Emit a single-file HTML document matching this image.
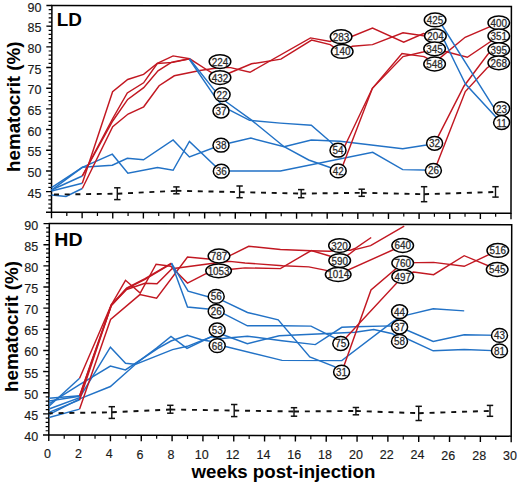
<!DOCTYPE html>
<html><head><meta charset="utf-8"><title>Hematocrit</title>
<style>
html,body{margin:0;padding:0;background:#fff;}
svg{display:block;}
text{font-family:"Liberation Sans",sans-serif;fill:#111;}
.tl{font-size:12.5px;fill:#1a1a1a;stroke:#1a1a1a;stroke-width:0.15px;}
.nl{font-size:10.4px;fill:#2a2a2a;stroke:#2a2a2a;stroke-width:0.25px;}
.pt{font-size:18px;font-weight:bold;fill:#000;}
.at{font-size:18px;font-weight:bold;fill:#000;}
</style></head>
<body>
<svg width="520" height="487" viewBox="0 0 520 487">
<rect width="520" height="487" fill="#fff"/>
<g transform="rotate(0.11 51.5 212.3)">
<rect x="51.50" y="5.50" width="459.50" height="206.80" fill="none" stroke="#000" stroke-width="1.5"/>
<line x1="46.00" y1="212.30" x2="51.50" y2="212.30" stroke="#000" stroke-width="1.4"/>
<line x1="48.30" y1="208.16" x2="51.50" y2="208.16" stroke="#000" stroke-width="1.2"/>
<line x1="48.30" y1="204.03" x2="51.50" y2="204.03" stroke="#000" stroke-width="1.2"/>
<line x1="48.30" y1="199.89" x2="51.50" y2="199.89" stroke="#000" stroke-width="1.2"/>
<line x1="48.30" y1="195.76" x2="51.50" y2="195.76" stroke="#000" stroke-width="1.2"/>
<line x1="46.00" y1="191.62" x2="51.50" y2="191.62" stroke="#000" stroke-width="1.4"/>
<line x1="48.30" y1="187.48" x2="51.50" y2="187.48" stroke="#000" stroke-width="1.2"/>
<line x1="48.30" y1="183.35" x2="51.50" y2="183.35" stroke="#000" stroke-width="1.2"/>
<line x1="48.30" y1="179.21" x2="51.50" y2="179.21" stroke="#000" stroke-width="1.2"/>
<line x1="48.30" y1="175.08" x2="51.50" y2="175.08" stroke="#000" stroke-width="1.2"/>
<line x1="46.00" y1="170.94" x2="51.50" y2="170.94" stroke="#000" stroke-width="1.4"/>
<line x1="48.30" y1="166.80" x2="51.50" y2="166.80" stroke="#000" stroke-width="1.2"/>
<line x1="48.30" y1="162.67" x2="51.50" y2="162.67" stroke="#000" stroke-width="1.2"/>
<line x1="48.30" y1="158.53" x2="51.50" y2="158.53" stroke="#000" stroke-width="1.2"/>
<line x1="48.30" y1="154.40" x2="51.50" y2="154.40" stroke="#000" stroke-width="1.2"/>
<line x1="46.00" y1="150.26" x2="51.50" y2="150.26" stroke="#000" stroke-width="1.4"/>
<line x1="48.30" y1="146.12" x2="51.50" y2="146.12" stroke="#000" stroke-width="1.2"/>
<line x1="48.30" y1="141.99" x2="51.50" y2="141.99" stroke="#000" stroke-width="1.2"/>
<line x1="48.30" y1="137.85" x2="51.50" y2="137.85" stroke="#000" stroke-width="1.2"/>
<line x1="48.30" y1="133.72" x2="51.50" y2="133.72" stroke="#000" stroke-width="1.2"/>
<line x1="46.00" y1="129.58" x2="51.50" y2="129.58" stroke="#000" stroke-width="1.4"/>
<line x1="48.30" y1="125.44" x2="51.50" y2="125.44" stroke="#000" stroke-width="1.2"/>
<line x1="48.30" y1="121.31" x2="51.50" y2="121.31" stroke="#000" stroke-width="1.2"/>
<line x1="48.30" y1="117.17" x2="51.50" y2="117.17" stroke="#000" stroke-width="1.2"/>
<line x1="48.30" y1="113.04" x2="51.50" y2="113.04" stroke="#000" stroke-width="1.2"/>
<line x1="46.00" y1="108.90" x2="51.50" y2="108.90" stroke="#000" stroke-width="1.4"/>
<line x1="48.30" y1="104.76" x2="51.50" y2="104.76" stroke="#000" stroke-width="1.2"/>
<line x1="48.30" y1="100.63" x2="51.50" y2="100.63" stroke="#000" stroke-width="1.2"/>
<line x1="48.30" y1="96.49" x2="51.50" y2="96.49" stroke="#000" stroke-width="1.2"/>
<line x1="48.30" y1="92.36" x2="51.50" y2="92.36" stroke="#000" stroke-width="1.2"/>
<line x1="46.00" y1="88.22" x2="51.50" y2="88.22" stroke="#000" stroke-width="1.4"/>
<line x1="48.30" y1="84.08" x2="51.50" y2="84.08" stroke="#000" stroke-width="1.2"/>
<line x1="48.30" y1="79.95" x2="51.50" y2="79.95" stroke="#000" stroke-width="1.2"/>
<line x1="48.30" y1="75.81" x2="51.50" y2="75.81" stroke="#000" stroke-width="1.2"/>
<line x1="48.30" y1="71.68" x2="51.50" y2="71.68" stroke="#000" stroke-width="1.2"/>
<line x1="46.00" y1="67.54" x2="51.50" y2="67.54" stroke="#000" stroke-width="1.4"/>
<line x1="48.30" y1="63.40" x2="51.50" y2="63.40" stroke="#000" stroke-width="1.2"/>
<line x1="48.30" y1="59.27" x2="51.50" y2="59.27" stroke="#000" stroke-width="1.2"/>
<line x1="48.30" y1="55.13" x2="51.50" y2="55.13" stroke="#000" stroke-width="1.2"/>
<line x1="48.30" y1="51.00" x2="51.50" y2="51.00" stroke="#000" stroke-width="1.2"/>
<line x1="46.00" y1="46.86" x2="51.50" y2="46.86" stroke="#000" stroke-width="1.4"/>
<line x1="48.30" y1="42.72" x2="51.50" y2="42.72" stroke="#000" stroke-width="1.2"/>
<line x1="48.30" y1="38.59" x2="51.50" y2="38.59" stroke="#000" stroke-width="1.2"/>
<line x1="48.30" y1="34.45" x2="51.50" y2="34.45" stroke="#000" stroke-width="1.2"/>
<line x1="48.30" y1="30.32" x2="51.50" y2="30.32" stroke="#000" stroke-width="1.2"/>
<line x1="46.00" y1="26.18" x2="51.50" y2="26.18" stroke="#000" stroke-width="1.4"/>
<line x1="48.30" y1="22.04" x2="51.50" y2="22.04" stroke="#000" stroke-width="1.2"/>
<line x1="48.30" y1="17.91" x2="51.50" y2="17.91" stroke="#000" stroke-width="1.2"/>
<line x1="48.30" y1="13.77" x2="51.50" y2="13.77" stroke="#000" stroke-width="1.2"/>
<line x1="48.30" y1="9.64" x2="51.50" y2="9.64" stroke="#000" stroke-width="1.2"/>
<line x1="46.00" y1="5.50" x2="51.50" y2="5.50" stroke="#000" stroke-width="1.4"/>
<line x1="51.50" y1="212.30" x2="51.50" y2="218.30" stroke="#000" stroke-width="1.4"/>
<line x1="66.82" y1="212.30" x2="66.82" y2="215.90" stroke="#000" stroke-width="1.2"/>
<line x1="82.13" y1="212.30" x2="82.13" y2="218.30" stroke="#000" stroke-width="1.4"/>
<line x1="97.45" y1="212.30" x2="97.45" y2="215.90" stroke="#000" stroke-width="1.2"/>
<line x1="112.77" y1="212.30" x2="112.77" y2="218.30" stroke="#000" stroke-width="1.4"/>
<line x1="128.08" y1="212.30" x2="128.08" y2="215.90" stroke="#000" stroke-width="1.2"/>
<line x1="143.40" y1="212.30" x2="143.40" y2="218.30" stroke="#000" stroke-width="1.4"/>
<line x1="158.72" y1="212.30" x2="158.72" y2="215.90" stroke="#000" stroke-width="1.2"/>
<line x1="174.03" y1="212.30" x2="174.03" y2="218.30" stroke="#000" stroke-width="1.4"/>
<line x1="189.35" y1="212.30" x2="189.35" y2="215.90" stroke="#000" stroke-width="1.2"/>
<line x1="204.67" y1="212.30" x2="204.67" y2="218.30" stroke="#000" stroke-width="1.4"/>
<line x1="219.98" y1="212.30" x2="219.98" y2="215.90" stroke="#000" stroke-width="1.2"/>
<line x1="235.30" y1="212.30" x2="235.30" y2="218.30" stroke="#000" stroke-width="1.4"/>
<line x1="250.62" y1="212.30" x2="250.62" y2="215.90" stroke="#000" stroke-width="1.2"/>
<line x1="265.93" y1="212.30" x2="265.93" y2="218.30" stroke="#000" stroke-width="1.4"/>
<line x1="281.25" y1="212.30" x2="281.25" y2="215.90" stroke="#000" stroke-width="1.2"/>
<line x1="296.57" y1="212.30" x2="296.57" y2="218.30" stroke="#000" stroke-width="1.4"/>
<line x1="311.88" y1="212.30" x2="311.88" y2="215.90" stroke="#000" stroke-width="1.2"/>
<line x1="327.20" y1="212.30" x2="327.20" y2="218.30" stroke="#000" stroke-width="1.4"/>
<line x1="342.52" y1="212.30" x2="342.52" y2="215.90" stroke="#000" stroke-width="1.2"/>
<line x1="357.83" y1="212.30" x2="357.83" y2="218.30" stroke="#000" stroke-width="1.4"/>
<line x1="373.15" y1="212.30" x2="373.15" y2="215.90" stroke="#000" stroke-width="1.2"/>
<line x1="388.47" y1="212.30" x2="388.47" y2="218.30" stroke="#000" stroke-width="1.4"/>
<line x1="403.78" y1="212.30" x2="403.78" y2="215.90" stroke="#000" stroke-width="1.2"/>
<line x1="419.10" y1="212.30" x2="419.10" y2="218.30" stroke="#000" stroke-width="1.4"/>
<line x1="434.42" y1="212.30" x2="434.42" y2="215.90" stroke="#000" stroke-width="1.2"/>
<line x1="449.73" y1="212.30" x2="449.73" y2="218.30" stroke="#000" stroke-width="1.4"/>
<line x1="465.05" y1="212.30" x2="465.05" y2="215.90" stroke="#000" stroke-width="1.2"/>
<line x1="480.37" y1="212.30" x2="480.37" y2="218.30" stroke="#000" stroke-width="1.4"/>
<line x1="495.68" y1="212.30" x2="495.68" y2="215.90" stroke="#000" stroke-width="1.2"/>
<line x1="511.00" y1="212.30" x2="511.00" y2="218.30" stroke="#000" stroke-width="1.4"/>
</g>
<text x="41.4" y="197.6" class="tl" text-anchor="end">45</text>
<text x="41.4" y="176.9" class="tl" text-anchor="end">50</text>
<text x="41.4" y="156.3" class="tl" text-anchor="end">55</text>
<text x="41.4" y="135.6" class="tl" text-anchor="end">60</text>
<text x="41.4" y="114.9" class="tl" text-anchor="end">65</text>
<text x="41.4" y="94.2" class="tl" text-anchor="end">70</text>
<text x="41.4" y="73.5" class="tl" text-anchor="end">75</text>
<text x="41.4" y="52.9" class="tl" text-anchor="end">80</text>
<text x="41.4" y="32.2" class="tl" text-anchor="end">85</text>
<text x="41.4" y="11.5" class="tl" text-anchor="end">90</text>
<g transform="rotate(0.14 48.8 435.0)">
<rect x="48.80" y="223.60" width="462.40" height="211.40" fill="none" stroke="#000" stroke-width="1.5"/>
<line x1="43.00" y1="435.00" x2="48.80" y2="435.00" stroke="#000" stroke-width="1.4"/>
<line x1="45.60" y1="430.77" x2="48.80" y2="430.77" stroke="#000" stroke-width="1.2"/>
<line x1="45.60" y1="426.54" x2="48.80" y2="426.54" stroke="#000" stroke-width="1.2"/>
<line x1="45.60" y1="422.32" x2="48.80" y2="422.32" stroke="#000" stroke-width="1.2"/>
<line x1="45.60" y1="418.09" x2="48.80" y2="418.09" stroke="#000" stroke-width="1.2"/>
<line x1="43.00" y1="413.86" x2="48.80" y2="413.86" stroke="#000" stroke-width="1.4"/>
<line x1="45.60" y1="409.63" x2="48.80" y2="409.63" stroke="#000" stroke-width="1.2"/>
<line x1="45.60" y1="405.40" x2="48.80" y2="405.40" stroke="#000" stroke-width="1.2"/>
<line x1="45.60" y1="401.18" x2="48.80" y2="401.18" stroke="#000" stroke-width="1.2"/>
<line x1="45.60" y1="396.95" x2="48.80" y2="396.95" stroke="#000" stroke-width="1.2"/>
<line x1="43.00" y1="392.72" x2="48.80" y2="392.72" stroke="#000" stroke-width="1.4"/>
<line x1="45.60" y1="388.49" x2="48.80" y2="388.49" stroke="#000" stroke-width="1.2"/>
<line x1="45.60" y1="384.26" x2="48.80" y2="384.26" stroke="#000" stroke-width="1.2"/>
<line x1="45.60" y1="380.04" x2="48.80" y2="380.04" stroke="#000" stroke-width="1.2"/>
<line x1="45.60" y1="375.81" x2="48.80" y2="375.81" stroke="#000" stroke-width="1.2"/>
<line x1="43.00" y1="371.58" x2="48.80" y2="371.58" stroke="#000" stroke-width="1.4"/>
<line x1="45.60" y1="367.35" x2="48.80" y2="367.35" stroke="#000" stroke-width="1.2"/>
<line x1="45.60" y1="363.12" x2="48.80" y2="363.12" stroke="#000" stroke-width="1.2"/>
<line x1="45.60" y1="358.90" x2="48.80" y2="358.90" stroke="#000" stroke-width="1.2"/>
<line x1="45.60" y1="354.67" x2="48.80" y2="354.67" stroke="#000" stroke-width="1.2"/>
<line x1="43.00" y1="350.44" x2="48.80" y2="350.44" stroke="#000" stroke-width="1.4"/>
<line x1="45.60" y1="346.21" x2="48.80" y2="346.21" stroke="#000" stroke-width="1.2"/>
<line x1="45.60" y1="341.98" x2="48.80" y2="341.98" stroke="#000" stroke-width="1.2"/>
<line x1="45.60" y1="337.76" x2="48.80" y2="337.76" stroke="#000" stroke-width="1.2"/>
<line x1="45.60" y1="333.53" x2="48.80" y2="333.53" stroke="#000" stroke-width="1.2"/>
<line x1="43.00" y1="329.30" x2="48.80" y2="329.30" stroke="#000" stroke-width="1.4"/>
<line x1="45.60" y1="325.07" x2="48.80" y2="325.07" stroke="#000" stroke-width="1.2"/>
<line x1="45.60" y1="320.84" x2="48.80" y2="320.84" stroke="#000" stroke-width="1.2"/>
<line x1="45.60" y1="316.62" x2="48.80" y2="316.62" stroke="#000" stroke-width="1.2"/>
<line x1="45.60" y1="312.39" x2="48.80" y2="312.39" stroke="#000" stroke-width="1.2"/>
<line x1="43.00" y1="308.16" x2="48.80" y2="308.16" stroke="#000" stroke-width="1.4"/>
<line x1="45.60" y1="303.93" x2="48.80" y2="303.93" stroke="#000" stroke-width="1.2"/>
<line x1="45.60" y1="299.70" x2="48.80" y2="299.70" stroke="#000" stroke-width="1.2"/>
<line x1="45.60" y1="295.48" x2="48.80" y2="295.48" stroke="#000" stroke-width="1.2"/>
<line x1="45.60" y1="291.25" x2="48.80" y2="291.25" stroke="#000" stroke-width="1.2"/>
<line x1="43.00" y1="287.02" x2="48.80" y2="287.02" stroke="#000" stroke-width="1.4"/>
<line x1="45.60" y1="282.79" x2="48.80" y2="282.79" stroke="#000" stroke-width="1.2"/>
<line x1="45.60" y1="278.56" x2="48.80" y2="278.56" stroke="#000" stroke-width="1.2"/>
<line x1="45.60" y1="274.34" x2="48.80" y2="274.34" stroke="#000" stroke-width="1.2"/>
<line x1="45.60" y1="270.11" x2="48.80" y2="270.11" stroke="#000" stroke-width="1.2"/>
<line x1="43.00" y1="265.88" x2="48.80" y2="265.88" stroke="#000" stroke-width="1.4"/>
<line x1="45.60" y1="261.65" x2="48.80" y2="261.65" stroke="#000" stroke-width="1.2"/>
<line x1="45.60" y1="257.42" x2="48.80" y2="257.42" stroke="#000" stroke-width="1.2"/>
<line x1="45.60" y1="253.20" x2="48.80" y2="253.20" stroke="#000" stroke-width="1.2"/>
<line x1="45.60" y1="248.97" x2="48.80" y2="248.97" stroke="#000" stroke-width="1.2"/>
<line x1="43.00" y1="244.74" x2="48.80" y2="244.74" stroke="#000" stroke-width="1.4"/>
<line x1="45.60" y1="240.51" x2="48.80" y2="240.51" stroke="#000" stroke-width="1.2"/>
<line x1="45.60" y1="236.28" x2="48.80" y2="236.28" stroke="#000" stroke-width="1.2"/>
<line x1="45.60" y1="232.06" x2="48.80" y2="232.06" stroke="#000" stroke-width="1.2"/>
<line x1="45.60" y1="227.83" x2="48.80" y2="227.83" stroke="#000" stroke-width="1.2"/>
<line x1="43.00" y1="223.60" x2="48.80" y2="223.60" stroke="#000" stroke-width="1.4"/>
<line x1="48.80" y1="435.00" x2="48.80" y2="441.00" stroke="#000" stroke-width="1.4"/>
<line x1="64.21" y1="435.00" x2="64.21" y2="438.60" stroke="#000" stroke-width="1.2"/>
<line x1="79.63" y1="435.00" x2="79.63" y2="441.00" stroke="#000" stroke-width="1.4"/>
<line x1="95.04" y1="435.00" x2="95.04" y2="438.60" stroke="#000" stroke-width="1.2"/>
<line x1="110.45" y1="435.00" x2="110.45" y2="441.00" stroke="#000" stroke-width="1.4"/>
<line x1="125.87" y1="435.00" x2="125.87" y2="438.60" stroke="#000" stroke-width="1.2"/>
<line x1="141.28" y1="435.00" x2="141.28" y2="441.00" stroke="#000" stroke-width="1.4"/>
<line x1="156.69" y1="435.00" x2="156.69" y2="438.60" stroke="#000" stroke-width="1.2"/>
<line x1="172.11" y1="435.00" x2="172.11" y2="441.00" stroke="#000" stroke-width="1.4"/>
<line x1="187.52" y1="435.00" x2="187.52" y2="438.60" stroke="#000" stroke-width="1.2"/>
<line x1="202.93" y1="435.00" x2="202.93" y2="441.00" stroke="#000" stroke-width="1.4"/>
<line x1="218.35" y1="435.00" x2="218.35" y2="438.60" stroke="#000" stroke-width="1.2"/>
<line x1="233.76" y1="435.00" x2="233.76" y2="441.00" stroke="#000" stroke-width="1.4"/>
<line x1="249.17" y1="435.00" x2="249.17" y2="438.60" stroke="#000" stroke-width="1.2"/>
<line x1="264.59" y1="435.00" x2="264.59" y2="441.00" stroke="#000" stroke-width="1.4"/>
<line x1="280.00" y1="435.00" x2="280.00" y2="438.60" stroke="#000" stroke-width="1.2"/>
<line x1="295.41" y1="435.00" x2="295.41" y2="441.00" stroke="#000" stroke-width="1.4"/>
<line x1="310.83" y1="435.00" x2="310.83" y2="438.60" stroke="#000" stroke-width="1.2"/>
<line x1="326.24" y1="435.00" x2="326.24" y2="441.00" stroke="#000" stroke-width="1.4"/>
<line x1="341.65" y1="435.00" x2="341.65" y2="438.60" stroke="#000" stroke-width="1.2"/>
<line x1="357.07" y1="435.00" x2="357.07" y2="441.00" stroke="#000" stroke-width="1.4"/>
<line x1="372.48" y1="435.00" x2="372.48" y2="438.60" stroke="#000" stroke-width="1.2"/>
<line x1="387.89" y1="435.00" x2="387.89" y2="441.00" stroke="#000" stroke-width="1.4"/>
<line x1="403.31" y1="435.00" x2="403.31" y2="438.60" stroke="#000" stroke-width="1.2"/>
<line x1="418.72" y1="435.00" x2="418.72" y2="441.00" stroke="#000" stroke-width="1.4"/>
<line x1="434.13" y1="435.00" x2="434.13" y2="438.60" stroke="#000" stroke-width="1.2"/>
<line x1="449.55" y1="435.00" x2="449.55" y2="441.00" stroke="#000" stroke-width="1.4"/>
<line x1="464.96" y1="435.00" x2="464.96" y2="438.60" stroke="#000" stroke-width="1.2"/>
<line x1="480.37" y1="435.00" x2="480.37" y2="441.00" stroke="#000" stroke-width="1.4"/>
<line x1="495.79" y1="435.00" x2="495.79" y2="438.60" stroke="#000" stroke-width="1.2"/>
<line x1="511.20" y1="435.00" x2="511.20" y2="441.00" stroke="#000" stroke-width="1.4"/>
</g>
<text x="38.1" y="441.0" class="tl" text-anchor="end">40</text>
<text x="38.1" y="419.9" class="tl" text-anchor="end">45</text>
<text x="38.1" y="398.7" class="tl" text-anchor="end">50</text>
<text x="38.1" y="377.6" class="tl" text-anchor="end">55</text>
<text x="38.1" y="356.4" class="tl" text-anchor="end">60</text>
<text x="38.1" y="335.3" class="tl" text-anchor="end">65</text>
<text x="38.1" y="314.2" class="tl" text-anchor="end">70</text>
<text x="38.1" y="293.0" class="tl" text-anchor="end">75</text>
<text x="38.1" y="271.9" class="tl" text-anchor="end">80</text>
<text x="38.1" y="250.7" class="tl" text-anchor="end">85</text>
<text x="38.1" y="229.6" class="tl" text-anchor="end">90</text>
<text x="47.6" y="458.30" class="tl" text-anchor="middle">0</text>
<text x="78.4" y="458.39" class="tl" text-anchor="middle">2</text>
<text x="109.3" y="458.48" class="tl" text-anchor="middle">4</text>
<text x="140.1" y="458.58" class="tl" text-anchor="middle">6</text>
<text x="170.9" y="458.67" class="tl" text-anchor="middle">8</text>
<text x="201.7" y="458.76" class="tl" text-anchor="middle">10</text>
<text x="232.6" y="458.85" class="tl" text-anchor="middle">12</text>
<text x="263.4" y="458.95" class="tl" text-anchor="middle">14</text>
<text x="294.2" y="459.04" class="tl" text-anchor="middle">16</text>
<text x="325.0" y="459.13" class="tl" text-anchor="middle">18</text>
<text x="355.9" y="459.22" class="tl" text-anchor="middle">20</text>
<text x="386.7" y="459.32" class="tl" text-anchor="middle">22</text>
<text x="417.5" y="459.41" class="tl" text-anchor="middle">24</text>
<text x="448.3" y="459.50" class="tl" text-anchor="middle">26</text>
<text x="479.2" y="459.59" class="tl" text-anchor="middle">28</text>
<text x="510.0" y="459.69" class="tl" text-anchor="middle">30</text>
<polyline points="51.5,195.0 66.0,196.5 82.3,188.5" fill="none" stroke="#2272c6" stroke-width="1.45" stroke-linejoin="miter" stroke-miterlimit="3" />
<polyline points="51.5,191.0 82.3,183.3" fill="none" stroke="#2272c6" stroke-width="1.45" stroke-linejoin="miter" stroke-miterlimit="3" />
<polyline points="51.5,190.0 82.3,176.0" fill="none" stroke="#2272c6" stroke-width="1.45" stroke-linejoin="miter" stroke-miterlimit="3" />
<polyline points="51.5,187.6 82.3,167.3 112.3,154.2 127.9,173.3 157.5,167.5 173.1,170.3 189.4,141.5 220.4,171.0 280.4,171.0 372.7,152.3 402.7,169.6 434.5,170.2" fill="none" stroke="#2272c6" stroke-width="1.45" stroke-linejoin="miter" stroke-miterlimit="3" />
<polyline points="51.5,190.2 82.3,167.3 112.3,165.2 127.3,158.3 143.5,159.8 173.1,140.0 189.4,156.9 220.2,145.2 250.9,138.1 284.1,146.7 311.3,140.0 340.0,141.3 402.7,148.8 434.5,143.7" fill="none" stroke="#2272c6" stroke-width="1.45" stroke-linejoin="miter" stroke-miterlimit="3" />
<polyline points="82.3,183.3 112.6,91.8 127.7,79.5 143.6,74.4 157.3,63.3 173.1,55.9 189.7,58.8 208.7,71.0 220.0,77.6 230.6,72.5 251.5,63.8 280.9,59.1 311.6,40.1 330.2,44.6 341.6,52.5 352.4,46.3 372.5,44.6 403.0,32.8 423.5,35.8 434.2,35.9" fill="none" stroke="#c21822" stroke-width="1.45" stroke-linejoin="miter" stroke-miterlimit="3" />
<polyline points="82.3,188.5 112.7,126.7 128.1,114.0 143.7,106.8 159.1,85.7 174.3,75.8 200.0,70.5 220.0,67.5 230.6,67.6 250.0,72.3 310.5,37.9 330.2,41.4 341.3,36.1 352.4,36.2 372.5,28.1 403.7,42.2 423.5,33.5 434.2,35.9" fill="none" stroke="#c21822" stroke-width="1.45" stroke-linejoin="miter" stroke-miterlimit="3" />
<polyline points="82.3,176.0 112.7,118.5 127.3,92.9 143.6,82.8 157.3,63.5 173.0,62.4 189.7,58.8" fill="none" stroke="#c21822" stroke-width="1.45" stroke-linejoin="miter" stroke-miterlimit="3" />
<polyline points="82.3,176.0 112.7,121.0 127.7,99.4 143.7,87.7 158.0,70.9 171.7,62.1 189.7,58.8" fill="none" stroke="#c21822" stroke-width="1.45" stroke-linejoin="miter" stroke-miterlimit="3" />
<polyline points="189.5,58.8 214.0,89.6 221.5,97.0 226.8,102.3 250.9,119.6 284.1,146.7 308.7,160.0 338.7,170.5" fill="none" stroke="#2272c6" stroke-width="1.45" stroke-linejoin="miter" stroke-miterlimit="3" />
<polyline points="189.5,59.5 213.6,94.9 221.0,104.0 229.3,109.8 249.6,120.3 280.4,123.1 311.3,125.3 330.7,142.0 338.7,150.2" fill="none" stroke="#2272c6" stroke-width="1.45" stroke-linejoin="miter" stroke-miterlimit="3" />
<polyline points="342.8,150.2 372.4,88.3 402.0,53.5 424.0,56.6 434.1,62.0" fill="none" stroke="#c21822" stroke-width="1.45" stroke-linejoin="miter" stroke-miterlimit="3" />
<polyline points="340.7,171.0 372.4,88.3 403.0,56.6 423.0,52.0 433.9,49.2" fill="none" stroke="#c21822" stroke-width="1.45" stroke-linejoin="miter" stroke-miterlimit="3" />
<polyline points="434.1,62.0 440.7,57.4 465.1,37.3 498.8,22.8" fill="none" stroke="#c21822" stroke-width="1.45" stroke-linejoin="miter" stroke-miterlimit="3" />
<polyline points="433.9,49.2 444.4,51.3 467.3,57.3 498.8,36.0" fill="none" stroke="#c21822" stroke-width="1.45" stroke-linejoin="miter" stroke-miterlimit="3" />
<polyline points="434.5,143.7 463.9,86.2 487.8,54.2 493.0,50.5" fill="none" stroke="#c21822" stroke-width="1.45" stroke-linejoin="miter" stroke-miterlimit="3" />
<polyline points="434.5,170.2 465.3,91.6 487.0,68.0 493.0,64.0" fill="none" stroke="#c21822" stroke-width="1.45" stroke-linejoin="miter" stroke-miterlimit="3" />
<polyline points="435.0,20.2 442.3,25.8 493.7,107.4 501.6,108.6" fill="none" stroke="#2272c6" stroke-width="1.45" stroke-linejoin="miter" stroke-miterlimit="3" />
<polyline points="434.2,35.9 444.2,40.4 455.0,62.7 465.5,84.0 495.0,116.0 501.6,122.5" fill="none" stroke="#2272c6" stroke-width="1.45" stroke-linejoin="miter" stroke-miterlimit="3" />
<line x1="51.5" y1="194.6" x2="117.3" y2="193.7" stroke="#111" stroke-width="1.9" stroke-dasharray="5.0,5.7" stroke-dashoffset="8.2"/>
<line x1="117.3" y1="193.7" x2="176.4" y2="190.8" stroke="#111" stroke-width="1.9" stroke-dasharray="5.0,5.7" stroke-dashoffset="0.0"/>
<line x1="176.4" y1="190.8" x2="239.6" y2="192.1" stroke="#111" stroke-width="1.9" stroke-dasharray="5.0,5.7" stroke-dashoffset="0.0"/>
<line x1="239.6" y1="192.1" x2="301.2" y2="193.6" stroke="#111" stroke-width="1.9" stroke-dasharray="5.0,5.7" stroke-dashoffset="0.0"/>
<line x1="301.2" y1="193.6" x2="361.7" y2="192.8" stroke="#111" stroke-width="1.9" stroke-dasharray="5.0,5.7" stroke-dashoffset="0.0"/>
<line x1="361.7" y1="192.8" x2="424.1" y2="194.2" stroke="#111" stroke-width="1.9" stroke-dasharray="5.0,5.7" stroke-dashoffset="0.0"/>
<line x1="424.1" y1="194.2" x2="495.5" y2="192.0" stroke="#111" stroke-width="1.9" stroke-dasharray="5.0,5.7" stroke-dashoffset="0.0"/>
<line x1="117.30" y1="187.80" x2="117.30" y2="199.60" stroke="#111" stroke-width="1.4"/>
<line x1="114.10" y1="187.80" x2="120.50" y2="187.80" stroke="#111" stroke-width="1.5"/>
<line x1="114.10" y1="199.60" x2="120.50" y2="199.60" stroke="#111" stroke-width="1.5"/>
<line x1="176.40" y1="186.90" x2="176.40" y2="193.80" stroke="#111" stroke-width="1.4"/>
<line x1="173.20" y1="186.90" x2="179.60" y2="186.90" stroke="#111" stroke-width="1.5"/>
<line x1="173.20" y1="193.80" x2="179.60" y2="193.80" stroke="#111" stroke-width="1.5"/>
<line x1="239.60" y1="186.00" x2="239.60" y2="197.70" stroke="#111" stroke-width="1.4"/>
<line x1="236.40" y1="186.00" x2="242.80" y2="186.00" stroke="#111" stroke-width="1.5"/>
<line x1="236.40" y1="197.70" x2="242.80" y2="197.70" stroke="#111" stroke-width="1.5"/>
<line x1="301.20" y1="189.60" x2="301.20" y2="197.70" stroke="#111" stroke-width="1.4"/>
<line x1="298.00" y1="189.60" x2="304.40" y2="189.60" stroke="#111" stroke-width="1.5"/>
<line x1="298.00" y1="197.70" x2="304.40" y2="197.70" stroke="#111" stroke-width="1.5"/>
<line x1="361.70" y1="189.20" x2="361.70" y2="196.30" stroke="#111" stroke-width="1.4"/>
<line x1="358.50" y1="189.20" x2="364.90" y2="189.20" stroke="#111" stroke-width="1.5"/>
<line x1="358.50" y1="196.30" x2="364.90" y2="196.30" stroke="#111" stroke-width="1.5"/>
<line x1="424.10" y1="186.70" x2="424.10" y2="201.70" stroke="#111" stroke-width="1.4"/>
<line x1="420.90" y1="186.70" x2="427.30" y2="186.70" stroke="#111" stroke-width="1.5"/>
<line x1="420.90" y1="201.70" x2="427.30" y2="201.70" stroke="#111" stroke-width="1.5"/>
<line x1="495.50" y1="186.70" x2="495.50" y2="197.10" stroke="#111" stroke-width="1.4"/>
<line x1="492.30" y1="186.70" x2="498.70" y2="186.70" stroke="#111" stroke-width="1.5"/>
<line x1="492.30" y1="197.10" x2="498.70" y2="197.10" stroke="#111" stroke-width="1.5"/>
<polyline points="49.0,409.0 79.6,397.6 110.4,347.2 125.5,363.2 135.0,364.2 156.5,348.1 171.0,336.5 187.0,348.4 211.2,336.8 217.0,337.6 222.0,338.5 247.4,336.2 282.0,340.8 315.3,344.6 341.8,327.3 355.0,326.7 391.0,325.9 399.6,327.0 433.2,341.5 464.2,334.8 499.5,335.4" fill="none" stroke="#2272c6" stroke-width="1.45" stroke-linejoin="miter" stroke-miterlimit="3" />
<polyline points="49.0,414.6 79.6,398.9 110.4,386.5 135.5,364.3 172.5,349.6 187.3,346.3 211.0,337.0 217.0,331.0 223.7,335.0 247.4,343.7 279.2,335.8 355.0,332.2 373.8,329.5 392.5,333.8 399.5,338.5 406.5,338.5 433.2,350.8 464.2,349.6 499.5,350.9" fill="none" stroke="#2272c6" stroke-width="1.45" stroke-linejoin="miter" stroke-miterlimit="3" />
<polyline points="49.0,403.9 79.6,384.7 110.4,366.1 125.4,369.9 157.9,348.4 171.0,341.0 187.3,335.3 201.5,339.7 210.2,341.2 217.2,345.6 225.5,346.5 282.0,360.4 341.8,360.6 393.9,320.9 407.7,314.9 433.2,308.7 464.2,310.9" fill="none" stroke="#2272c6" stroke-width="1.45" stroke-linejoin="miter" stroke-miterlimit="3" />
<polyline points="49.0,406.2 79.6,378.3" fill="none" stroke="#2272c6" stroke-width="1.45" stroke-linejoin="miter" stroke-miterlimit="3" />
<polyline points="49.0,398.2 79.6,395.8" fill="none" stroke="#2272c6" stroke-width="1.45" stroke-linejoin="miter" stroke-miterlimit="3" />
<polyline points="49.0,412.4 79.6,399.9" fill="none" stroke="#2272c6" stroke-width="1.45" stroke-linejoin="miter" stroke-miterlimit="3" />
<polyline points="49.0,417.5 79.6,409.1" fill="none" stroke="#2272c6" stroke-width="1.45" stroke-linejoin="miter" stroke-miterlimit="3" />
<polyline points="79.6,378.3 111.2,305.0 125.5,280.3 140.2,293.0 156.1,264.2 170.8,266.3 187.5,283.1 206.0,273.7 218.6,270.8 231.5,269.2 245.0,267.9 280.4,268.6 311.2,250.5 329.6,256.0 339.7,260.6 349.2,254.2 355.0,249.6 370.6,245.6 404.2,226.1" fill="none" stroke="#c21822" stroke-width="1.45" stroke-linejoin="miter" stroke-miterlimit="3" />
<polyline points="79.6,395.8 111.2,305.0 126.6,288.0 145.0,278.7 171.5,263.2" fill="none" stroke="#c21822" stroke-width="1.45" stroke-linejoin="miter" stroke-miterlimit="3" />
<polyline points="49.0,401.0 79.6,396.3" fill="none" stroke="#2272c6" stroke-width="1.45" stroke-linejoin="miter" stroke-miterlimit="3" />
<polyline points="79.6,396.3 111.4,305.6 126.8,288.6 145.0,279.4 171.5,263.6" fill="none" stroke="#c21822" stroke-width="1.45" stroke-linejoin="miter" stroke-miterlimit="3" />
<polyline points="79.6,399.9 111.2,305.5 126.6,289.5 145.0,283.3 157.0,283.7 172.0,268.7 219.0,262.5 229.9,261.4 245.0,263.0 282.7,265.7 308.8,266.9 326.2,270.4 338.2,274.5 402.7,245.5" fill="none" stroke="#c21822" stroke-width="1.45" stroke-linejoin="miter" stroke-miterlimit="3" />
<polyline points="79.6,409.1 110.6,319.5 139.9,294.6 156.6,298.1 187.5,257.1 208.5,258.9 219.0,256.0 229.9,255.6 248.7,246.3 280.4,249.5 311.2,250.8 329.6,251.3 339.5,250.0 350.4,250.2 355.0,248.5 371.2,237.5" fill="none" stroke="#c21822" stroke-width="1.45" stroke-linejoin="miter" stroke-miterlimit="3" />
<polyline points="171.5,263.2 188.1,291.2 208.0,296.7 215.6,295.8 223.2,300.9 247.5,312.5 278.2,319.9 309.8,356.9 334.4,366.7 341.5,372.7" fill="none" stroke="#2272c6" stroke-width="1.45" stroke-linejoin="miter" stroke-miterlimit="3" />
<polyline points="171.5,263.2 187.5,307.0 208.0,309.0 216.0,310.2 224.1,313.9 247.4,325.8 282.0,325.8 311.0,326.1 334.4,337.8 340.8,343.2" fill="none" stroke="#2272c6" stroke-width="1.45" stroke-linejoin="miter" stroke-miterlimit="3" />
<polyline points="341.5,372.7 371.0,290.0 402.7,262.9 433.5,262.4 464.2,266.3 497.8,250.4" fill="none" stroke="#c21822" stroke-width="1.45" stroke-linejoin="miter" stroke-miterlimit="3" />
<polyline points="340.8,343.2 402.7,276.6 413.5,272.0 433.6,274.7 464.2,255.7 497.2,269.5" fill="none" stroke="#c21822" stroke-width="1.45" stroke-linejoin="miter" stroke-miterlimit="3" />
<line x1="49.0" y1="413.3" x2="111.8" y2="412.3" stroke="#111" stroke-width="1.9" stroke-dasharray="5.0,5.85" stroke-dashoffset="1.3"/>
<line x1="111.8" y1="412.3" x2="170.3" y2="409.5" stroke="#111" stroke-width="1.9" stroke-dasharray="5.0,5.85" stroke-dashoffset="0.0"/>
<line x1="170.3" y1="409.5" x2="234.2" y2="410.5" stroke="#111" stroke-width="1.9" stroke-dasharray="5.0,5.85" stroke-dashoffset="0.0"/>
<line x1="234.2" y1="410.5" x2="294.0" y2="411.5" stroke="#111" stroke-width="1.9" stroke-dasharray="5.0,5.85" stroke-dashoffset="0.0"/>
<line x1="294.0" y1="411.5" x2="355.9" y2="411.0" stroke="#111" stroke-width="1.9" stroke-dasharray="5.0,5.85" stroke-dashoffset="0.0"/>
<line x1="355.9" y1="411.0" x2="418.7" y2="413.2" stroke="#111" stroke-width="1.9" stroke-dasharray="5.0,5.85" stroke-dashoffset="0.0"/>
<line x1="418.7" y1="413.2" x2="490.0" y2="410.9" stroke="#111" stroke-width="1.9" stroke-dasharray="5.0,5.85" stroke-dashoffset="0.0"/>
<line x1="111.80" y1="406.70" x2="111.80" y2="418.40" stroke="#111" stroke-width="1.4"/>
<line x1="108.60" y1="406.70" x2="115.00" y2="406.70" stroke="#111" stroke-width="1.5"/>
<line x1="108.60" y1="418.40" x2="115.00" y2="418.40" stroke="#111" stroke-width="1.5"/>
<line x1="170.30" y1="405.30" x2="170.30" y2="413.20" stroke="#111" stroke-width="1.4"/>
<line x1="167.10" y1="405.30" x2="173.50" y2="405.30" stroke="#111" stroke-width="1.5"/>
<line x1="167.10" y1="413.20" x2="173.50" y2="413.20" stroke="#111" stroke-width="1.5"/>
<line x1="234.20" y1="404.50" x2="234.20" y2="416.60" stroke="#111" stroke-width="1.4"/>
<line x1="231.00" y1="404.50" x2="237.40" y2="404.50" stroke="#111" stroke-width="1.5"/>
<line x1="231.00" y1="416.60" x2="237.40" y2="416.60" stroke="#111" stroke-width="1.5"/>
<line x1="294.00" y1="407.70" x2="294.00" y2="416.20" stroke="#111" stroke-width="1.4"/>
<line x1="290.80" y1="407.70" x2="297.20" y2="407.70" stroke="#111" stroke-width="1.5"/>
<line x1="290.80" y1="416.20" x2="297.20" y2="416.20" stroke="#111" stroke-width="1.5"/>
<line x1="355.90" y1="407.50" x2="355.90" y2="414.80" stroke="#111" stroke-width="1.4"/>
<line x1="352.70" y1="407.50" x2="359.10" y2="407.50" stroke="#111" stroke-width="1.5"/>
<line x1="352.70" y1="414.80" x2="359.10" y2="414.80" stroke="#111" stroke-width="1.5"/>
<line x1="418.70" y1="406.30" x2="418.70" y2="420.50" stroke="#111" stroke-width="1.4"/>
<line x1="415.50" y1="406.30" x2="421.90" y2="406.30" stroke="#111" stroke-width="1.5"/>
<line x1="415.50" y1="420.50" x2="421.90" y2="420.50" stroke="#111" stroke-width="1.5"/>
<line x1="490.00" y1="405.40" x2="490.00" y2="416.30" stroke="#111" stroke-width="1.4"/>
<line x1="486.80" y1="405.40" x2="493.20" y2="405.40" stroke="#111" stroke-width="1.5"/>
<line x1="486.80" y1="416.30" x2="493.20" y2="416.30" stroke="#111" stroke-width="1.5"/>
<ellipse cx="220.0" cy="61.6" rx="10.8" ry="6.9" fill="#fff" stroke="#000" stroke-width="1.5"/>
<text transform="translate(220.0,65.5) scale(0.95,1)" class="nl" text-anchor="middle">224</text>
<ellipse cx="220.0" cy="77.6" rx="10.8" ry="6.9" fill="#fff" stroke="#000" stroke-width="1.5"/>
<text transform="translate(220.0,81.5) scale(0.95,1)" class="nl" text-anchor="middle">432</text>
<ellipse cx="222.1" cy="94.6" rx="8.0" ry="6.9" fill="#fff" stroke="#000" stroke-width="1.5"/>
<text transform="translate(222.1,98.5) scale(0.95,1)" class="nl" text-anchor="middle">22</text>
<ellipse cx="221.0" cy="111.0" rx="8.0" ry="6.9" fill="#fff" stroke="#000" stroke-width="1.5"/>
<text transform="translate(221.0,114.9) scale(0.95,1)" class="nl" text-anchor="middle">37</text>
<ellipse cx="221.0" cy="145.2" rx="8.0" ry="6.9" fill="#fff" stroke="#000" stroke-width="1.5"/>
<text transform="translate(221.0,149.1) scale(0.95,1)" class="nl" text-anchor="middle">38</text>
<ellipse cx="221.3" cy="171.2" rx="8.0" ry="6.9" fill="#fff" stroke="#000" stroke-width="1.5"/>
<text transform="translate(221.3,175.1) scale(0.95,1)" class="nl" text-anchor="middle">36</text>
<ellipse cx="341.1" cy="36.7" rx="10.8" ry="6.9" fill="#fff" stroke="#000" stroke-width="1.5"/>
<text transform="translate(341.1,40.7) scale(0.95,1)" class="nl" text-anchor="middle">283</text>
<ellipse cx="342.2" cy="51.4" rx="10.8" ry="6.9" fill="#fff" stroke="#000" stroke-width="1.5"/>
<text transform="translate(342.2,55.4) scale(0.95,1)" class="nl" text-anchor="middle">140</text>
<ellipse cx="338.0" cy="150.2" rx="8.0" ry="6.9" fill="#fff" stroke="#000" stroke-width="1.5"/>
<text transform="translate(338.0,154.1) scale(0.95,1)" class="nl" text-anchor="middle">54</text>
<ellipse cx="338.2" cy="170.9" rx="8.0" ry="6.9" fill="#fff" stroke="#000" stroke-width="1.5"/>
<text transform="translate(338.2,174.8) scale(0.95,1)" class="nl" text-anchor="middle">42</text>
<ellipse cx="435.1" cy="19.9" rx="10.8" ry="6.9" fill="#fff" stroke="#000" stroke-width="1.5"/>
<text transform="translate(435.1,23.8) scale(0.95,1)" class="nl" text-anchor="middle">425</text>
<ellipse cx="435.4" cy="36.0" rx="10.8" ry="6.9" fill="#fff" stroke="#000" stroke-width="1.5"/>
<text transform="translate(435.4,40.0) scale(0.95,1)" class="nl" text-anchor="middle">204</text>
<ellipse cx="434.6" cy="48.8" rx="10.8" ry="6.9" fill="#fff" stroke="#000" stroke-width="1.5"/>
<text transform="translate(434.6,52.8) scale(0.95,1)" class="nl" text-anchor="middle">345</text>
<ellipse cx="434.6" cy="64.0" rx="10.8" ry="6.9" fill="#fff" stroke="#000" stroke-width="1.5"/>
<text transform="translate(434.6,68.0) scale(0.95,1)" class="nl" text-anchor="middle">548</text>
<ellipse cx="434.6" cy="143.3" rx="8.0" ry="6.9" fill="#fff" stroke="#000" stroke-width="1.5"/>
<text transform="translate(434.6,147.2) scale(0.95,1)" class="nl" text-anchor="middle">32</text>
<ellipse cx="433.4" cy="170.5" rx="8.0" ry="6.9" fill="#fff" stroke="#000" stroke-width="1.5"/>
<text transform="translate(433.4,174.4) scale(0.95,1)" class="nl" text-anchor="middle">26</text>
<ellipse cx="498.8" cy="22.8" rx="10.8" ry="6.9" fill="#fff" stroke="#000" stroke-width="1.5"/>
<text transform="translate(498.8,26.8) scale(0.95,1)" class="nl" text-anchor="middle">400</text>
<ellipse cx="498.8" cy="36.0" rx="10.8" ry="6.9" fill="#fff" stroke="#000" stroke-width="1.5"/>
<text transform="translate(498.8,40.0) scale(0.95,1)" class="nl" text-anchor="middle">351</text>
<ellipse cx="498.8" cy="49.6" rx="10.8" ry="6.9" fill="#fff" stroke="#000" stroke-width="1.5"/>
<text transform="translate(498.8,53.6) scale(0.95,1)" class="nl" text-anchor="middle">395</text>
<ellipse cx="498.8" cy="62.8" rx="10.8" ry="6.9" fill="#fff" stroke="#000" stroke-width="1.5"/>
<text transform="translate(498.8,66.8) scale(0.95,1)" class="nl" text-anchor="middle">268</text>
<ellipse cx="501.6" cy="108.6" rx="8.0" ry="6.9" fill="#fff" stroke="#000" stroke-width="1.5"/>
<text transform="translate(501.6,112.5) scale(0.95,1)" class="nl" text-anchor="middle">23</text>
<ellipse cx="501.6" cy="122.5" rx="8.0" ry="6.9" fill="#fff" stroke="#000" stroke-width="1.5"/>
<text transform="translate(501.6,126.5) scale(0.95,1)" class="nl" text-anchor="middle">11</text>
<ellipse cx="219.0" cy="256.0" rx="10.8" ry="6.9" fill="#fff" stroke="#000" stroke-width="1.5"/>
<text transform="translate(219.0,259.9) scale(0.95,1)" class="nl" text-anchor="middle">787</text>
<ellipse cx="218.6" cy="270.8" rx="12.8" ry="6.9" fill="#fff" stroke="#000" stroke-width="1.5"/>
<text transform="translate(218.6,274.8) scale(0.95,1)" class="nl" text-anchor="middle">1053</text>
<ellipse cx="216.2" cy="296.4" rx="8.0" ry="6.9" fill="#fff" stroke="#000" stroke-width="1.5"/>
<text transform="translate(216.2,300.3) scale(0.95,1)" class="nl" text-anchor="middle">56</text>
<ellipse cx="216.2" cy="311.3" rx="8.0" ry="6.9" fill="#fff" stroke="#000" stroke-width="1.5"/>
<text transform="translate(216.2,315.2) scale(0.95,1)" class="nl" text-anchor="middle">26</text>
<ellipse cx="217.2" cy="330.0" rx="8.0" ry="6.9" fill="#fff" stroke="#000" stroke-width="1.5"/>
<text transform="translate(217.2,333.9) scale(0.95,1)" class="nl" text-anchor="middle">53</text>
<ellipse cx="217.2" cy="345.6" rx="8.0" ry="6.9" fill="#fff" stroke="#000" stroke-width="1.5"/>
<text transform="translate(217.2,349.6) scale(0.95,1)" class="nl" text-anchor="middle">68</text>
<ellipse cx="339.5" cy="245.6" rx="10.8" ry="6.9" fill="#fff" stroke="#000" stroke-width="1.5"/>
<text transform="translate(339.5,249.5) scale(0.95,1)" class="nl" text-anchor="middle">320</text>
<ellipse cx="339.7" cy="260.6" rx="10.8" ry="6.9" fill="#fff" stroke="#000" stroke-width="1.5"/>
<text transform="translate(339.7,264.6) scale(0.95,1)" class="nl" text-anchor="middle">590</text>
<ellipse cx="338.2" cy="274.5" rx="12.8" ry="6.9" fill="#fff" stroke="#000" stroke-width="1.5"/>
<text transform="translate(338.2,278.4) scale(0.95,1)" class="nl" text-anchor="middle">1014</text>
<ellipse cx="340.8" cy="343.5" rx="8.0" ry="6.9" fill="#fff" stroke="#000" stroke-width="1.5"/>
<text transform="translate(340.8,347.4) scale(0.95,1)" class="nl" text-anchor="middle">75</text>
<ellipse cx="341.6" cy="372.1" rx="8.0" ry="6.9" fill="#fff" stroke="#000" stroke-width="1.5"/>
<text transform="translate(341.6,376.1) scale(0.95,1)" class="nl" text-anchor="middle">31</text>
<ellipse cx="402.7" cy="245.5" rx="10.8" ry="6.9" fill="#fff" stroke="#000" stroke-width="1.5"/>
<text transform="translate(402.7,249.4) scale(0.95,1)" class="nl" text-anchor="middle">640</text>
<ellipse cx="402.7" cy="262.9" rx="10.8" ry="6.9" fill="#fff" stroke="#000" stroke-width="1.5"/>
<text transform="translate(402.7,266.8) scale(0.95,1)" class="nl" text-anchor="middle">760</text>
<ellipse cx="402.7" cy="276.6" rx="10.8" ry="6.9" fill="#fff" stroke="#000" stroke-width="1.5"/>
<text transform="translate(402.7,280.6) scale(0.95,1)" class="nl" text-anchor="middle">497</text>
<ellipse cx="399.6" cy="311.7" rx="8.0" ry="6.9" fill="#fff" stroke="#000" stroke-width="1.5"/>
<text transform="translate(399.6,315.6) scale(0.95,1)" class="nl" text-anchor="middle">44</text>
<ellipse cx="399.6" cy="327.0" rx="8.0" ry="6.9" fill="#fff" stroke="#000" stroke-width="1.5"/>
<text transform="translate(399.6,330.9) scale(0.95,1)" class="nl" text-anchor="middle">37</text>
<ellipse cx="399.5" cy="341.4" rx="8.0" ry="6.9" fill="#fff" stroke="#000" stroke-width="1.5"/>
<text transform="translate(399.5,345.3) scale(0.95,1)" class="nl" text-anchor="middle">58</text>
<ellipse cx="497.8" cy="250.4" rx="10.8" ry="6.9" fill="#fff" stroke="#000" stroke-width="1.5"/>
<text transform="translate(497.8,254.3) scale(0.95,1)" class="nl" text-anchor="middle">516</text>
<ellipse cx="497.2" cy="269.5" rx="10.8" ry="6.9" fill="#fff" stroke="#000" stroke-width="1.5"/>
<text transform="translate(497.2,273.4) scale(0.95,1)" class="nl" text-anchor="middle">545</text>
<ellipse cx="499.5" cy="335.4" rx="8.0" ry="6.9" fill="#fff" stroke="#000" stroke-width="1.5"/>
<text transform="translate(499.5,339.3) scale(0.95,1)" class="nl" text-anchor="middle">43</text>
<ellipse cx="499.5" cy="350.9" rx="8.0" ry="6.9" fill="#fff" stroke="#000" stroke-width="1.5"/>
<text transform="translate(499.5,354.8) scale(0.95,1)" class="nl" text-anchor="middle">81</text>
<text x="56.7" y="25.9" class="pt" textLength="25.2" lengthAdjust="spacingAndGlyphs">LD</text>
<text x="54.3" y="245.8" class="pt" textLength="28.2" lengthAdjust="spacingAndGlyphs">HD</text>
<text transform="translate(19.7,172.0) rotate(-90)" class="at" textLength="130.6" lengthAdjust="spacingAndGlyphs">hematocrit (%)</text>
<text transform="translate(17.7,392.1) rotate(-90)" class="at" textLength="131.2" lengthAdjust="spacingAndGlyphs">hematocrit (%)</text>
<text x="191.6" y="478.2" class="at" textLength="183.7" lengthAdjust="spacingAndGlyphs">weeks post-injection</text>
</svg>
</body></html>
